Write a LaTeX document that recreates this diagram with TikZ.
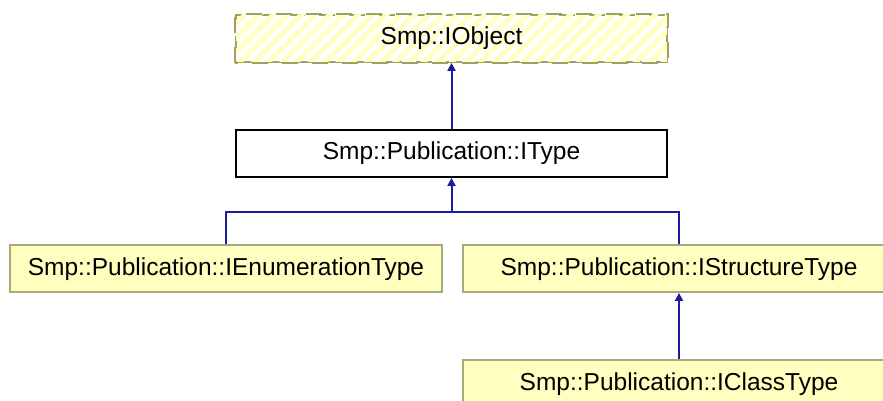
\documentclass[tikz,border=0pt]{standalone}
\usepackage{fontspec}
\setmainfont{Liberation Sans}
\usetikzlibrary{arrows.meta,patterns.meta}
\definecolor{boxfill}{HTML}{FFFFC0}
\definecolor{boxline}{HTML}{A8A878}
\definecolor{edgecol}{HTML}{1C1C9C}
\definecolor{dashcol}{HTML}{A0A060}
\tikzset{
  cls/.style={draw=boxline, fill=boxfill, line width=1.8pt, rectangle,
    minimum width=432pt, minimum height=47pt, inner sep=0pt,
    font=\fontsize{24.5}{28}\selectfont, text height=18pt, text depth=5pt},
  plain/.style={cls, draw=black, fill=white},
  ext/.style={cls, draw=dashcol, fill=white, dash pattern=on 16pt off 14pt,
    postaction={pattern={Lines[angle=45,distance=10pt,line width=5pt]}, pattern color=boxfill}},
  inh/.style={draw=edgecol, line width=2pt, -{Triangle[width=8pt,length=8pt]}},
}
\begin{document}
\begin{tikzpicture}[x=1pt,y=-1pt]
\useasboundingbox (0,0) rectangle (883,401);
\clip (0,0) rectangle (883,401);
\fill[white] (0,0) rectangle (883,401);
\node[ext, minimum width=431pt] (obj) at (451.5,38.5) {};
\draw[dashcol, line width=1.8pt, dash pattern=on 16pt off 14pt] (obj.south west) rectangle (obj.north east);
\node[font=\fontsize{24.5}{28}\selectfont] (objtext) at (obj.center) {Smp::IObject};
\node[plain, minimum width=431pt] (type) at (451.5,153.5) {Smp::Publication::IType};
\node[cls] (enum) at (226,268.5) {Smp::Publication::IEnumerationType};
\node[cls] (struct) at (679,268.5) {Smp::Publication::IStructureType};
\node[cls] (class) at (679,383.5) {Smp::Publication::IClassType};
\coordinate (j) at (451.5,212);
\draw[inh] (type.north) -- (obj.south);
\draw[edgecol, line width=2pt] (enum.north) |- (j);
\draw[edgecol, line width=2pt] (struct.north) |- (j);
\draw[inh] (j) -- (type.south);
\draw[inh] (class.north) -- (struct.south);
\end{tikzpicture}
\end{document}
